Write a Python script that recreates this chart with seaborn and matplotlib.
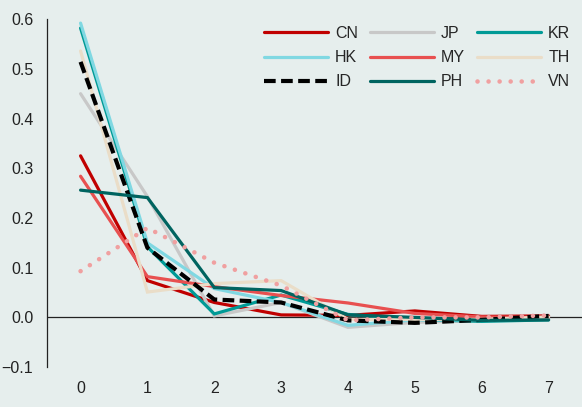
import pandas as pd
import seaborn as sns
import matplotlib
matplotlib.use("Agg")
import matplotlib.pyplot as plt
from matplotlib.lines import Line2D

# lag index
lags = [0, 1, 2, 3, 4, 5, 6, 7]

cn = [0.325, 0.074, 0.030, 0.005, 0.004, 0.013, 0.002, 0.003]
jp = [0.450, 0.243, 0.003, 0.030, -0.020, -0.010, -0.006, -0.002]
kr = [0.582, 0.142, 0.007, 0.045, 0.006, -0.004, -0.008, -0.005]
hk = [0.592, 0.150, 0.058, 0.030, -0.016, -0.005, -0.005, -0.003]
my = [0.284, 0.082, 0.062, 0.044, 0.029, 0.008, 0.001, 0.000]
th = [0.536, 0.051, 0.068, 0.074, -0.004, -0.004, -0.004, 0.001]
id_ = [0.514, 0.140, 0.036, 0.030, -0.006, -0.011, -0.005, 0.003]
ph = [0.256, 0.241, 0.060, 0.054, 0.005, 0.000, -0.006, -0.005]
vn = [0.093, 0.180, 0.110, 0.064, -0.006, 0.000, 0.000, 0.004]

series = {"CN": cn, "JP": jp, "KR": kr, "HK": hk, "MY": my,
          "TH": th, "ID": id_, "PH": ph, "VN": vn}

# (colour, linestyle, linewidth)
styles = {
    "CN": ("#C00000", "-", 2.3),
    "JP": ("#C8C8C8", "-", 2.3),
    "KR": ("#009A96", "-", 2.3),
    "HK": ("#80D8E2", "-", 2.3),
    "MY": ("#E85050", "-", 2.3),
    "TH": ("#EADDC8", "-", 2.3),
    "ID": ("#000000", (0, (2.8, 1.3)), 3.0),
    "PH": ("#006460", "-", 2.3),
    "VN": ("#F0A0A0", (0, (0.01, 2.4)), 3.3),
}

yticks = [-0.1, 0.0, 0.1, 0.2, 0.3, 0.4, 0.5, 0.6]
ylabels = ["\u22120.1", "0.0", "0.1", "0.2", "0.3", "0.4", "0.5", "0.6"]

bg = "#E6EEED"
sns.set_style("white")
plt.rcParams["font.family"] = ["Liberation Sans", "DejaVu Sans"]

fig, ax = plt.subplots(figsize=(5.82, 4.07), dpi=100)
fig.patch.set_facecolor(bg)
ax.set_facecolor(bg)

handles = {}
for name, vals in series.items():
    color, ls, lw = styles[name]
    df = pd.DataFrame({"lag": lags, "value": vals})
    sns.lineplot(data=df, x="lag", y="value", color=color, linestyle=ls,
                 linewidth=lw, ax=ax)
    line = ax.lines[-1]
    line.set_dash_capstyle("round" if name == "VN" else "butt")
    line.set_solid_joinstyle("miter")
    handles[name] = Line2D([], [], color=color, linestyle=ls, linewidth=lw,
                           dash_capstyle="round" if name == "VN" else "butt")

ax.axhline(0, color="#222222", linewidth=0.9, zorder=0)

ax.set_xlim(-0.5, 7.5)
ax.set_ylim(-0.1, 0.6)
ax.set_xticks(lags)
ax.set_yticks(yticks)
ax.set_yticklabels(ylabels)
ax.set_xlabel("")
ax.set_ylabel("")
ax.tick_params(axis="both", length=0, labelsize=11.5, colors="#222222")
ax.tick_params(axis="y", pad=10)
ax.tick_params(axis="x", pad=10)

for side in ["top", "right", "bottom"]:
    ax.spines[side].set_visible(False)
ax.spines["left"].set_color("#222222")
ax.spines["left"].set_linewidth(0.9)

order = ["CN", "HK", "ID", "JP", "MY", "PH", "KR", "TH", "VN"]
ax.legend([handles[k] for k in order], order, ncol=3, frameon=False,
          loc="upper right", bbox_to_anchor=(1.005, 1.022),
          fontsize=11.5, handlelength=4.0, handletextpad=0.45,
          columnspacing=0.75, labelspacing=0.58)

fig.subplots_adjust(left=0.081, right=1.0, top=0.953, bottom=0.098)
fig.savefig("out.png", dpi=100, facecolor=bg)
